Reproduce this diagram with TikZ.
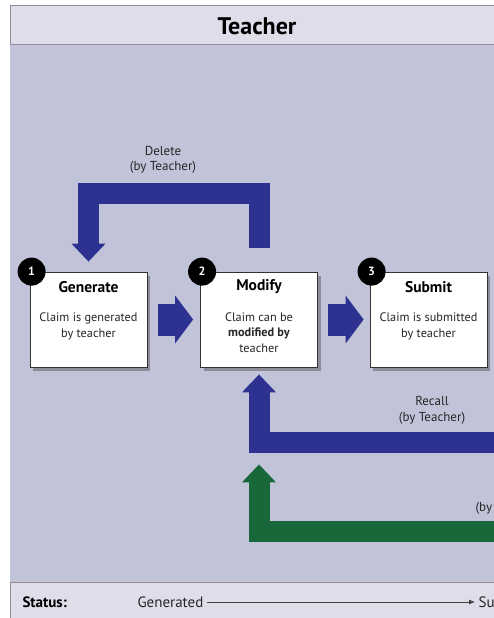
\documentclass[tikz,border=0pt]{standalone}
\usepackage{fontspec}
\setmainfont{PT Sans}
\usetikzlibrary{arrows.meta,shadows}
\definecolor{lanefill}{RGB}{193,195,217}
\definecolor{barfill}{RGB}{222,221,234}
\definecolor{rimgray}{RGB}{150,138,148}
\definecolor{flowblue}{RGB}{45,50,145}
\definecolor{flowgreen}{RGB}{24,104,58}
\tikzset{
    stage/.style={draw=black!80, fill=white, line width=0.8pt, minimum width=117pt, minimum height=95pt,
        drop shadow={shadow xshift=3pt, shadow yshift=-4pt, opacity=0.45, fill=black!70}}, % box of one step
    badge/.style={circle, fill=black, text=white, font=\bfseries\fontsize{12}{12}\selectfont, minimum size=28pt, inner sep=0pt},
    headline/.style={font=\bfseries\fontsize{15.5}{15.5}\selectfont},
    blurb/.style={align=center, font=\fontsize{12.3}{15.5}\selectfont, text=black!85},
    fat/.style={line width=32pt, flowblue, -{Triangle[length=18pt,width=47pt]}}, % arrows between steps
    band/.style={line width=21pt, -{Triangle[length=18pt,width=33pt]}}, % bent arrows
    note/.style={align=center, font=\fontsize{13}{15.5}\selectfont, text=black!85}
}

\begin{document}
\begin{tikzpicture}[x=1pt, y=-1pt]
    \useasboundingbox (0,0) rectangle (494,618);
    \clip (0,0) rectangle (494,618);
    \fill[white] (0,0) rectangle (494,618);

    % lane
    \fill[lanefill] (10,44) rectangle (500,582);
    \draw[rimgray, fill=barfill, line width=0.8pt] (10,5) rectangle (500,44);
    \draw[rimgray, fill=barfill, line width=0.8pt] (10,582) rectangle (500,625);
    \node[font=\bfseries\fontsize{24}{24}\selectfont] (lane) at (257,26) {Teacher};

    % steps
    \node[stage] (gen) at (88.5,319.5) {};
    \node[stage] (mod) at (259,319.5) {};
    \node[stage] (sub) at (428.5,319.5) {};
    \node[headline] at ([yshift=-15pt]gen.north) {Generate};
    \node[headline] at ([yshift=-15pt]mod.north) {Modify};
    \node[headline] at ([yshift=-15pt]sub.north) {Submit};
    \node[blurb] at ([yshift=-55pt]gen.north) {Claim is generated\\by teacher};
    \node[blurb] at ([yshift=-61pt]mod.north) {Claim can be\\\textbf{modified by}\\teacher};
    \node[blurb] at ([yshift=-55pt]sub.north) {Claim is submitted\\by teacher};
    \foreach \s/\n in {gen/1,mod/2,sub/3} {\node[badge] at ([xshift=2pt]\s.north west) {\n};}

    \draw[fat] ([xshift=11pt]gen.east) -- ([xshift=-7pt]mod.west);
    \draw[fat] ([xshift=10pt]mod.east) -- ([xshift=-6pt]sub.west);

    % bent arrows
    \draw[band, flowblue] ([yshift=24pt]mod.north) -- ++(0,-54.5) -| ([yshift=10pt]gen.north);
    \node[note] (del) at (163,160) {Delete\\(by Teacher)};
    \coordinate (recin) at (505,442.5);
    \draw[band, flowblue] (recin) -| ([yshift=-7pt]mod.south);
    \node[note] (rec) at (432,410.5) {Recall\\(by Teacher)};
    \coordinate (retin) at (505,531);
    \draw[band, flowgreen] (retin) -| ([yshift=-97pt]mod.south);
    \node[note, anchor=west] (ret) at (472,508) {(by};

    % status row
    \node[anchor=west, font=\bfseries\fontsize{15}{15}\selectfont] (stat) at (19,602) {Status:};
    \node[anchor=west, font=\fontsize{15}{15}\selectfont, text=black!85] (sgen) at (134,602) {Generated};
    \node[anchor=west, font=\fontsize{15}{15}\selectfont, text=black!85] (ssub) at (475,602) {Su};
    \draw[black!75, line width=0.8pt, -{Latex[length=6pt,width=5pt]}] (sgen.east) -- (ssub.west);
\end{tikzpicture}
\end{document}
